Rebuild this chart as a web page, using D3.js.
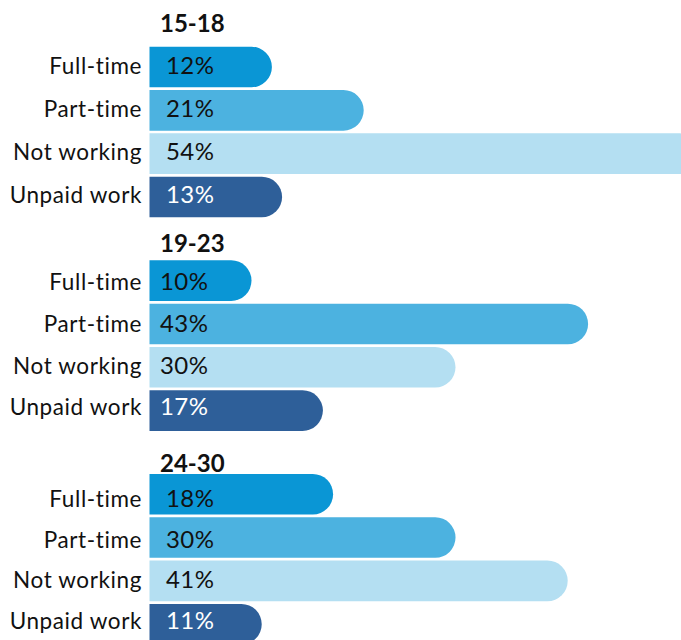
<!DOCTYPE html>
<html>
<head>
<meta charset="utf-8">
<script src="https://cdn.jsdelivr.net/npm/d3@7"></script>
<style>
  html, body { margin: 0; padding: 0; background: #fff; }
  svg { display: block; }
</style>
</head>
<body>
<svg id="chart" width="681" height="640"></svg>
<script>
// Work status by age group (share of young people, %)
const ageGroups = ["15-18", "19-23", "24-30"];
const statuses = ["Full-time", "Part-time", "Not working", "Unpaid work"];
const shares15to18 = [12, 21, 54, 13];
const shares19to23 = [10, 43, 30, 17];
const shares24to30 = [18, 30, 41, 11];
const groupShares = [shares15to18, shares19to23, shares24to30];

const statusColors = ["#0a96d5", "#4cb2e0", "#b4dff2", "#2e5f99"];
const valueTextColors = ["#111", "#111", "#111", "#fff"];

const svg = d3.select("#chart");

// Horizontal value scale: bars grow from a common left edge
const x = d3.scaleLinear().domain([0, 54]).range([149.5, 149.5 + 54 * 10.2]);

// Vertical placement of the three panels
const group = d3.scaleBand().domain(ageGroups).range([46.7, 46.7 + 3 * 213.6]);
const row = d3.scaleBand().domain(statuses).range([0, 170.6]).paddingInner(0.0625);

// Per-panel text placement
const panelText = [
  { title: -15, baseline0: 74, baselineStep: 43, valueX: 166 },
  { title: -8.7, baseline0: 290, baselineStep: 41.8, valueX: 160 },
  { title: -1.7, baseline0: 507, baselineStep: 40.5, valueX: 166 }
];

// Bar with a square left edge and a fully rounded right end
function pill(x0, x1, y0, h) {
  const r = h / 2;
  const p = d3.path();
  p.moveTo(x0, y0);
  p.lineTo(x1 - r, y0);
  p.arc(x1 - r, y0 + r, r, -Math.PI / 2, Math.PI / 2);
  p.lineTo(x0, y0 + h);
  p.closePath();
  return p.toString();
}

ageGroups.forEach((g, gi) => {
  const top = group(g);
  const cfg = panelText[gi];
  const panel = svg.append("g");

  panel.append("text")
    .attr("x", 160)
    .attr("y", top + cfg.title)
    .attr("font-family", "Lato, 'Open Sans', sans-serif")
    .attr("font-weight", 700)
    .attr("font-size", 24)
    .attr("fill", "#111")
    .text(g);

  const rows = statuses.map((s, i) => ({ status: s, value: groupShares[gi][i], i }));

  panel.selectAll("path.bar")
    .data(rows)
    .join("path")
    .attr("class", "bar")
    .attr("d", d => pill(x(0), x(d.value), top + row(d.status), row.bandwidth()))
    .attr("fill", d => statusColors[d.i]);

  panel.selectAll("text.cat")
    .data(rows)
    .join("text")
    .attr("class", "cat")
    .attr("x", 142)
    .attr("y", d => cfg.baseline0 + d.i * cfg.baselineStep)
    .attr("text-anchor", "end")
    .attr("font-family", "Lato, 'Open Sans', sans-serif")
    .attr("font-size", 22.5)
    .attr("letter-spacing", 0.6)
    .attr("fill", "#111")
    .text(d => d.status);

  panel.selectAll("text.val")
    .data(rows)
    .join("text")
    .attr("class", "val")
    .attr("x", cfg.valueX)
    .attr("y", d => cfg.baseline0 + d.i * cfg.baselineStep)
    .attr("font-family", "Lato, 'Open Sans', sans-serif")
    .attr("font-size", 24)
    .attr("letter-spacing", 0.4)
    .attr("fill", d => valueTextColors[d.i])
    .text(d => d.value + "%");
});
</script>
</body>
</html>
